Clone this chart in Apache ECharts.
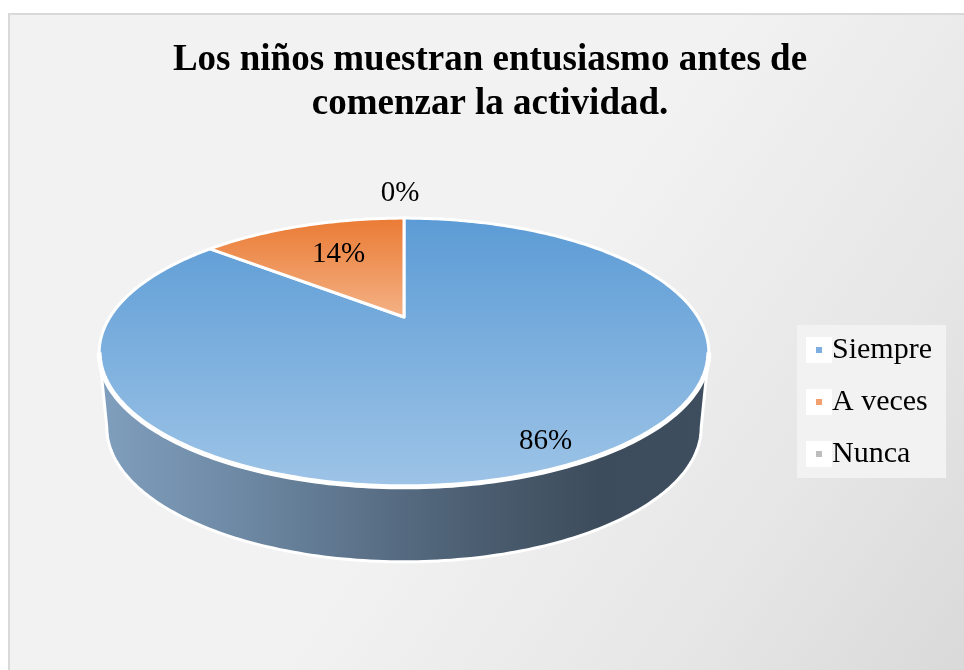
<!DOCTYPE html>
<html>
<head>
<meta charset="utf-8">
<title>Entusiasmo antes de la actividad</title>
<script src="https://cdn.jsdelivr.net/npm/echarts@6/dist/echarts.min.js"></script>
<style>
    body, html { margin: 0; padding: 0; background: #fff; }
    #main { width: 964px; height: 670px; }
</style>
</head>
<body>
<div id="main"></div>
<script>
var categorias = ['Siempre', 'A veces', 'Nunca'];
var valores = [86, 14, 0];
var titulo = 'Los niños muestran entusiasmo antes de\ncomenzar la actividad.';

// colores: leyenda, cara superior (arriba/abajo), lateral
var coloresLeyenda = ['#7eaee0', '#f3a06f', '#bdbdbd'];
var coloresCara = [['#5b9bd5', '#9ec4e7'], ['#ea7a33', '#f4b286'], ['#a5a5a5', '#d0d0d0']];
var coloresLado = [
    [[0, '#809fbe'], [0.25, '#6c87a2'], [0.5, '#556a80'], [0.66, '#485a6c'], [0.82, '#3d4c5c'], [1, '#3e4e5f']],
    [[0, '#c06a30'], [1, '#6e3a18']],
    [[0, '#8a8a8a'], [1, '#4a4a4a']]
];

var fuente = '"Liberation Serif", "Times New Roman", serif';
var chart = echarts.init(document.getElementById('main'));

var total = valores.reduce(function (a, b) { return a + b; }, 0);
var inicio = [];
var acum = 0;
for (var i = 0; i < valores.length; i++) { inicio.push(acum); acum += valores[i]; }

// geometria del pastel 3D con perspectiva (como Excel)
var cx = 404, cy = 317, R = 294, A = 125, k = 0.264, D = 75;
var phiR = Math.acos(-k) * 180 / Math.PI;   // silueta derecha
var phiL = 360 - phiR;                       // silueta izquierda

function proj(phi, r, h) {
    var t = phi * Math.PI / 180;
    var u = r * Math.sin(t), v = r * Math.cos(t);
    var w = 1 + k * v;
    return [cx + R * u / w * (1 - 0.025 * h), cy - A * v / w + D * h];
}

function arco(a0, a1, r, h) {
    var pts = [];
    var n = Math.max(2, Math.ceil(Math.abs(a1 - a0)));
    for (var j = 0; j <= n; j++) pts.push(proj(a0 + (a1 - a0) * j / n, r, h));
    return pts;
}

function renderSlice(params, api) {
    var idx = params.seriesIndex;
    var value = api.value(0);
    var a0 = inicio[idx] / total * 360;
    var a1 = (inicio[idx] + value) / total * 360;
    var children = [];

    if (value > 0) {
        var s0 = Math.max(a0, phiR), s1 = Math.min(a1, phiL);
        if (s1 > s0) {
            children.push({
                type: 'polygon',
                shape: { points: arco(s0, s1, 1, 0).concat(arco(s1, s0, 1, 1)) },
                style: {
                    fill: new echarts.graphic.LinearGradient(0, 0, 1, 0, coloresLado[idx].map(function (s) {
                        return { offset: s[0], color: s[1] };
                    })),
                    stroke: '#fff', lineWidth: 3, lineJoin: 'round'
                }
            });
        }
        children.push({
            type: 'polygon',
            shape: { points: [proj(0, 0, 0)].concat(arco(a0, a1, 1, 0)) },
            style: {
                fill: new echarts.graphic.LinearGradient(0, 0, 0, 1, [
                    { offset: 0, color: coloresCara[idx][0] },
                    { offset: 1, color: coloresCara[idx][1] }
                ]),
                stroke: '#fff', lineWidth: 3, lineJoin: 'round'
            }
        });
        if (s1 > s0) {
            children.push({
                type: 'polyline',
                shape: { points: arco(s0, s1, 1, 0) },
                style: { fill: null, stroke: '#fff', lineWidth: 5 }
            });
        }
    }

    var share = value / total;
    var texto = Math.round(share * 100) + '%';
    var p, va;
    if (value > 0) {
        p = proj((a0 + a1) / 2, share > 0.5 ? 0.87 : 0.64, 0);
        p = [p[0] + 4, p[1]];
        va = 'middle';
    } else {
        p = proj(a0, 1, 0);
        p = [p[0] - 4, p[1] - 10];
        va = 'bottom';
    }
    children.push({
        type: 'text',
        x: p[0], y: p[1],
        style: { text: texto, fill: '#000', font: '29px ' + fuente, align: 'center', verticalAlign: va }
    });

    return { type: 'group', children: children };
}

var option = {
    backgroundColor: '#fff',
    animation: false,
    graphic: [{
        type: 'rect',
        z: -10,
        silent: true,
        shape: { x: 9, y: 14, width: 970, height: 670 },
        style: {
            fill: new echarts.graphic.LinearGradient(0, 0, 1, 1, [
                { offset: 0, color: '#f2f2f2' },
                { offset: 0.5, color: '#f2f2f2' },
                { offset: 0.78, color: '#e6e6e6' },
                { offset: 1, color: '#d8d8d8' }
            ]),
            stroke: '#d9d9d9', lineWidth: 2
        }
    }],
    title: {
        text: titulo,
        left: 490,
        top: 38,
        textAlign: 'center',
        padding: 0,
        textStyle: {
            fontFamily: fuente,
            fontWeight: 'bold',
            fontSize: 37,
            lineHeight: 44,
            color: '#000'
        }
    },
    legend: {
        data: categorias,
        orient: 'vertical',
        left: 797,
        top: 325,
        padding: [10, 14, 9, 9],
        backgroundColor: '#f2f2f2',
        icon: 'rect',
        itemWidth: 16,
        itemHeight: 16,
        itemGap: 22,
        selectedMode: false,
        itemStyle: { borderColor: '#fff', borderWidth: 10 },
        textStyle: { fontFamily: fuente, fontSize: 30, color: '#000' }
    },
    series: categorias.map(function (c, i) {
        return {
            type: 'custom',
            name: c,
            coordinateSystem: 'none',
            silent: true,
            itemStyle: { color: coloresLeyenda[i] },
            data: [valores[i]],
            renderItem: renderSlice
        };
    })
};

chart.setOption(option);
</script>
</body>
</html>
